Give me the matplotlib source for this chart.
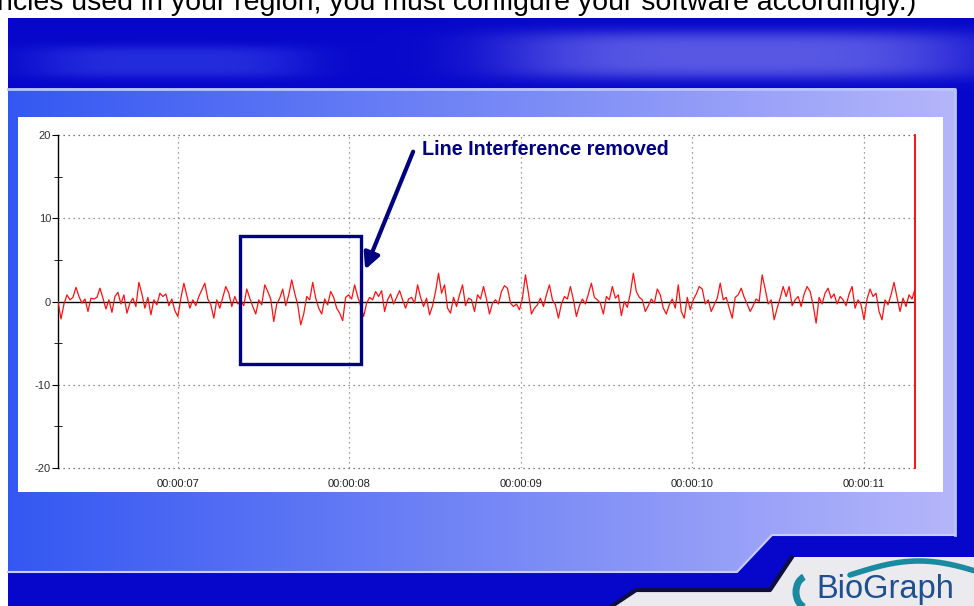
import numpy as np
import matplotlib
matplotlib.use('Agg')
import matplotlib.pyplot as plt
from matplotlib.path import Path
from matplotlib.patches import Rectangle, Arc

# ---------------- data ----------------
signal_part1 = [0, -2.1, -0.3, 0.8, 0.2, 0.5, 1.7, 0.6, -0.2, 0.3,
                -1.2, 0.4, 0.3, 0.5, 1.6, 0.4, -0.9, 0.2, -1.3, 0.6,
                1.1, -0.3, 0.8, -1.4, -0.2, 0.4, -0.6, 2.3, 0.9, -0.8,
                0.5, -1.6, 0.2, -0.4, 1.0, 0.6, 0.9, -0.5, 0.3, -1.1,
                -1.8, 0.4, 2.2, 0.7, -0.8, 0.2, -0.5, 0.6, 1.4, 2.2,
                0.3, -0.4, -2.0, 0.2, -0.8, 0.5, 1.8, 1.0, -0.6, 0.6,
                -0.3, 0.1, -0.5, 1.5, 0.4, -0.6, -1.5, 0.2, -0.4, 2.0,
                1.2, 0.3, -2.4, -0.3, 0.4, 1.5, -0.5, 0.8, 2.6, 1.0,
                -0.4, -2.8, -1.5, 0.6, 0.2, 2.3, 0.4, -0.8, -1.5, 0.3,
                -0.4, 1.2, 0.5, -0.8, -1.4, -2.3]
signal_part2 = [0.5, 0.8, 0.3, 2.0, 0.6, -0.5, -1.8, -0.2, 0.5, 0.2,
                1.2, 0.6, 1.3, -1.2, 0.2, 0.9, -0.3, 0.5, 1.3, 0.2,
                -0.8, 0.3, 0.5, -0.2, 2.0, 0.5, -0.6, 0.4, -1.6, -0.5,
                1.2, 3.4, 1.0, 2.0, -0.8, -1.4, 0.5, -0.6, 0.8, 2.0,
                -0.5, 0.4, 0.2, -1.2, 0.8, 0.3, 1.8, 0.3, -1.5, -0.2,
                0.2, -0.3, 1.2, 1.9, 1.6, -0.2, -0.6, -0.3, -1.0, 0.4,
                3.2, 1.0, -1.5, -0.8, -0.4, 0.4, -0.6, 0.8, 2.0, 0.2,
                -0.4, -2.0, -0.3, 0.6, 0.3, 1.8, 0.2, -1.8, -0.5, 0.3,
                -0.3, 0.9, 2.2, 0.5, 0.2, -0.2, -1.5, 0.6, 0.2, 1.8,
                0.4, 0.8, -1.7, 0.0, -0.7]
signal_part3 = [1.0, 3.4, 1.2, 0.5, 0.2, -1.2, -0.5, 0.3, -0.2, 1.5,
                0.8, -0.8, -1.5, -0.4, 0.3, -0.8, 2.0, -1.2, -2.0, 0.5,
                -1.0, 0.2, 0.9, 1.8, 1.5, -0.3, 0.2, -1.2, -0.4, 0.4,
                2.2, 0.2, 0.5, -0.8, -2.0, 0.5, 0.8, 1.6, 0.5, -0.3,
                -1.2, -0.5, 0.3, 0.0, 3.2, 1.5, -0.3, 0.2, -2.2, -0.8,
                0.4, 1.8, 0.6, 1.8, -0.5, 0.2, 0.6, -0.6, 0.9, 1.8,
                1.2, -0.4, -2.6, 0.5, -0.3, 1.0, 1.6, 0.4, 0.9, -0.3,
                0.6, 0.2, -0.5, 0.9, 1.8, -0.8, 0.2, -0.4, -2.2, 0.3,
                1.5, 0.6, 1.0, -1.2, -2.2, 0.2, -0.4, 0.8, 2.3, 0.5,
                -1.2, 0.4, -0.6, 0.8, 0.3, 1.5]
time_start = 6.30          # seconds at left edge
time_end = 11.30           # seconds at cursor (right edge)
xtick_values = [7, 8, 9, 10, 11]
xtick_labels = ['00:00:07', '00:00:08', '00:00:09', '00:00:10', '00:00:11']
ytick_values = [-20, -10, 0, 10, 20]
ytick_minor = [-15, -5, 5, 15]
box_t0, box_t1 = 7.36, 8.07
box_v0, box_v1 = -7.45, 7.9
arrow_from = (8.372, 18.0)
arrow_to = (8.092, 3.84)
label_text = 'Line Interference removed'
top_caption = 'ncies used in your region, you must configure your software accordingly.)'
logo_text = 'BioGraph'

signal = np.array(signal_part1 + signal_part2 + signal_part3)
n = len(signal)
sample_dt = (time_end - time_start) / (n - 1)
times = time_start + np.arange(n) * sample_dt

# ---------------- figure & background ----------------
W, H = 974, 606
fig = plt.figure(figsize=(W / 100, H / 100), dpi=100)
fig.patch.set_facecolor('white')
bg = fig.add_axes([0, 0, 1, 1])
bg.set_xlim(0, W)
bg.set_ylim(H, 0)
bg.axis('off')

yy, xx = np.mgrid[0:H, 0:W] + 0.5
img = np.ones((H, W, 3))
blue_mask = (xx >= 8) & (yy >= 18)
base = np.array([0.03, 0.03, 0.80])
img[blue_mask] = base


def blend(img, w, col, mask):
    w = (w * mask)[..., None]
    return img * (1 - w) + np.array(col) * w


w1 = np.exp(-(((xx - 740) / 240) ** 4 + ((yy - 55) / 24) ** 4))
img = blend(img, w1 * 0.75, (0.45, 0.45, 0.93), blue_mask)
w2 = np.exp(-(((xx - 170) / 140) ** 4 + ((yy - 62) / 16) ** 4))
img = blend(img, w2 * 0.5, (0.25, 0.32, 0.93), blue_mask)

pts = np.column_stack([xx.ravel(), yy.ravel()])
panel_verts = [(8, 88), (955, 88), (955, 535), (772, 535), (737, 572), (8, 572)]
pmask = Path(panel_verts).contains_points(pts).reshape(H, W)
t = np.clip(xx / W, 0, 1)[..., None]
left_c = np.array([0.20, 0.34, 0.95])
right_c = np.array([0.72, 0.72, 0.98])
grad = left_c + (right_c - left_c) * t
img[pmask] = grad[pmask]

gray_verts = [(792, 557), (974, 557), (974, 606), (612, 606), (636, 590), (770, 590)]
gmask = Path(gray_verts).contains_points(pts).reshape(H, W)
img[gmask] = (0.92, 0.92, 0.94)

bg.imshow(img, extent=[0, W, H, 0], interpolation='bilinear', zorder=0, aspect='auto')
bg.plot([8, 955, 955], [89, 89, 535], color='#b8c4ff', lw=2, zorder=1)
bg.plot([955, 772, 737, 8], [535, 535, 572, 572], color='#c8ccff', lw=1.5, zorder=1)
bg.plot([792, 770, 636, 612], [557, 590, 590, 606], color='#101040', lw=3, zorder=1)
bg.add_patch(Rectangle((18, 117), 925, 375, facecolor='white', edgecolor='none', zorder=2))

bg.text(-3, 10, top_caption, fontsize=20.5, family=['Liberation Sans', 'DejaVu Sans'],
        color='black', va='baseline', ha='left', zorder=3)

# logo
bg.text(816, 598, logo_text, fontsize=23.5, family=['Liberation Sans', 'DejaVu Sans'],
        color='#1f4f8f', va='baseline', ha='left', zorder=3)
bg.add_patch(Arc((808, 592), 24, 32, theta1=105, theta2=255, color='#1a8aa0', lw=5, zorder=3))
sw = np.linspace(0, 1, 60)
bg.plot(850 + sw * 124, 575 - 14 * np.sin(sw * np.pi * 0.9), color='#1a8aa0', lw=4,
        solid_capstyle='round', zorder=2.5)

# ---------------- chart ----------------
ax = fig.add_axes([58 / W, 1 - 468 / H, (915 - 58) / W, (468 - 135) / H])
ax.patch.set_alpha(0)
ax.set_zorder(5)
ax.set_xlim(time_start, time_end)
ax.set_ylim(-20, 20)

dot = (0, (1, 3))
for v in [10, -10]:
    ax.axhline(v, color='#707070', lw=0.9, ls=dot, zorder=1)
for v in [20, -20]:
    ax.axhline(v, color='#505050', lw=0.9, ls=dot, zorder=1, clip_on=False)
for v in xtick_values:
    ax.axvline(v, color='#808080', lw=0.9, ls=dot, zorder=1)
ax.axhline(0, color='black', lw=1.0, zorder=2)
ax.plot(times, signal, color='#ff1010', lw=0.9, zorder=3)
ax.axvline(time_end, color='#ff0000', lw=1.3, zorder=4, clip_on=False)

for s in ['top', 'right', 'bottom']:
    ax.spines[s].set_visible(False)
ax.spines['left'].set_color('black')
ax.spines['left'].set_linewidth(1.0)

narrow = ['Liberation Sans Narrow', 'Liberation Sans', 'DejaVu Sans']
ax.set_yticks(ytick_values)
ax.set_yticklabels([str(v) for v in ytick_values], fontsize=8, color='#303030', family=narrow)
ax.set_yticks(ytick_minor, minor=True)
ax.tick_params(axis='y', which='major', direction='out', length=4, pad=1, color='black')
ax.tick_params(axis='y', which='minor', direction='inout', length=6, color='black')
ax.set_xticks(xtick_values)
ax.set_xticklabels(xtick_labels, fontsize=8, color='#202020', family=narrow)
ax.tick_params(axis='x', length=0, pad=8)

ax.add_patch(Rectangle((box_t0, box_v0), box_t1 - box_t0, box_v1 - box_v0, fill=False,
                       edgecolor='#000080', lw=2.4, zorder=6, clip_on=False))
ax.annotate('', xy=arrow_to, xytext=arrow_from,
            arrowprops=dict(arrowstyle='-|>', color='#000080', lw=3, mutation_scale=24,
                            shrinkA=0, shrinkB=0), zorder=6, annotation_clip=False)
ax.text(8.425, 18.2, label_text, fontsize=14.2, fontweight='bold', color='#000080',
        family=narrow, va='center', ha='left', zorder=6)

fig.savefig('out.png', dpi=100)
